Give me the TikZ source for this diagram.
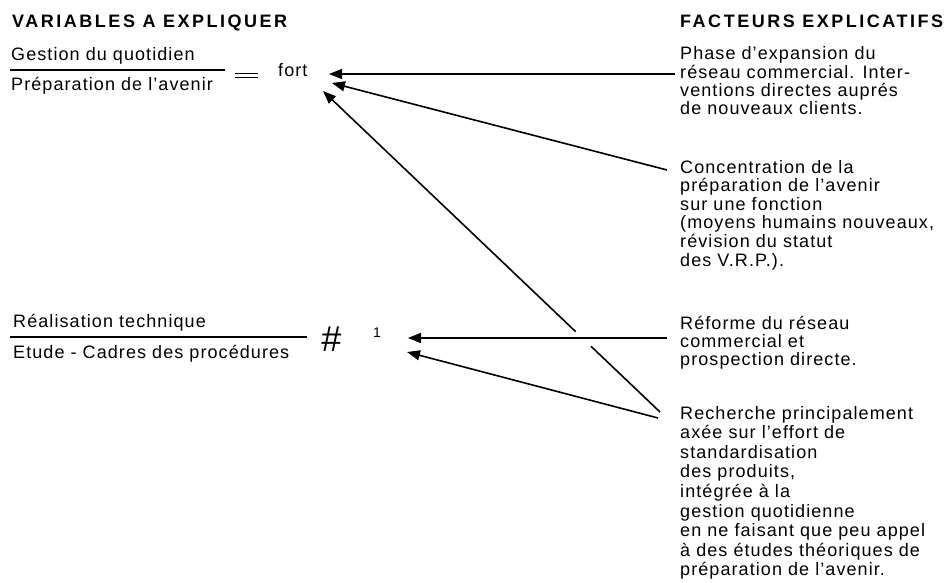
\documentclass[tikz,border=0pt]{standalone}
\usepackage{fontspec}
\setmainfont{Liberation Sans}
\newfontfamily\bodyfont[LetterSpace=6]{Liberation Sans}
\newfontfamily\headfont[LetterSpace=14]{Liberation Sans Bold}
\usetikzlibrary{arrows.meta,calc}
% left-aligned lines whose baseline is that of the first line
\newcommand\linestack[1]{\begin{tabular}[t]{@{}l@{}}#1\end{tabular}}

\begin{document}
\begin{tikzpicture}[x=1pt,y=-1pt,
  txt/.style={inner sep=0pt, anchor=base west,
              font=\bodyfont\fontsize{18}{#1}\selectfont},
  txt/.default=17,
  head/.style={inner sep=0pt, anchor=base west,
               font=\headfont\fontsize{18}{18}\selectfont},
  link/.style={line width=1.6pt, -{Triangle[length=13pt,width=10pt]}},
  fracbar/.style={line width=1.3pt}]
\useasboundingbox[fill=white] (0,0) rectangle (948,583);

% column headings
\node[head] (hv) at (12,28) {VARIABLES A EXPLIQUER};
\node[head] (hf) at (680,28) {FACTEURS EXPLICATIFS};

% first ratio
\node[txt] (g1) at (11,61) {Gestion du quotidien};
\node[txt] (p1) at (11,91) {Préparation de l’avenir};
\draw[fracbar] (10,70) -- (225,70);
\draw[line width=1.2pt] (235,73.5) -- (258,73.5) (235,77.5) -- (258,77.5);
\node[txt] (fort) at (278,77) {fort};

% second ratio
\node[txt] (r2) at (13,327) {Réalisation technique};
\node[txt] (e2) at (13,358) {Etude - Cadres des procédures};
\draw[fracbar] (10,337) -- (307,337);
\node[inner sep=0pt, font=\fontsize{36}{36}\selectfont\itshape] (neq) at (331,339) {\#};
\node[inner sep=0pt, font=\fontsize{14}{14}\selectfont] (one) at (377,333) {1};

% explanatory factors
\node[txt=17] (t1) at (680,60) {\linestack{Phase d’expansion du\\réseau commercial. Inter-\\ventions directes auprés\\de nouveaux clients.}};
\node[txt=18.5] (t2) at (680,173) {\linestack{Concentration de la\\préparation de l’avenir\\sur une fonction\\(moyens humains nouveaux,\\révision du statut\\des V.R.P.).}};
\node[txt=17.5] (t3) at (680,329) {\linestack{Réforme du réseau\\commercial et\\prospection directe.}};
\node[txt=19.6] (t4) at (680,419) {\linestack{Recherche principalement\\axée sur l’effort de\\standardisation\\des produits,\\intégrée à la\\gestion quotidienne\\en ne faisant que peu appel\\à des études théoriques de\\préparation de l’avenir.}};

% arrow ends
\coordinate (s1) at (675,74);
\coordinate (s2) at (667,170);
\coordinate (s3) at (660,412);
\coordinate (s4) at (667,338);
\coordinate (s5) at (658,418);
\coordinate (f1) at (329,74);
\coordinate (f2) at (332,83);
\coordinate (f3) at (323,91);
\coordinate (u1) at (408,338);
\coordinate (u2) at (407,352);

% links
\draw[link] (s1) -- (f1);
\draw[link] (s2) -- (f2);
\draw[link] (s3) -- (f3);
\draw[white, line width=4pt] ($(s3)!0.205!(f3)$) -- ($(s3)!0.25!(f3)$);
\draw[link] (s4) -- (u1);
\draw[link] (s5) -- (u2);
\end{tikzpicture}
\end{document}
